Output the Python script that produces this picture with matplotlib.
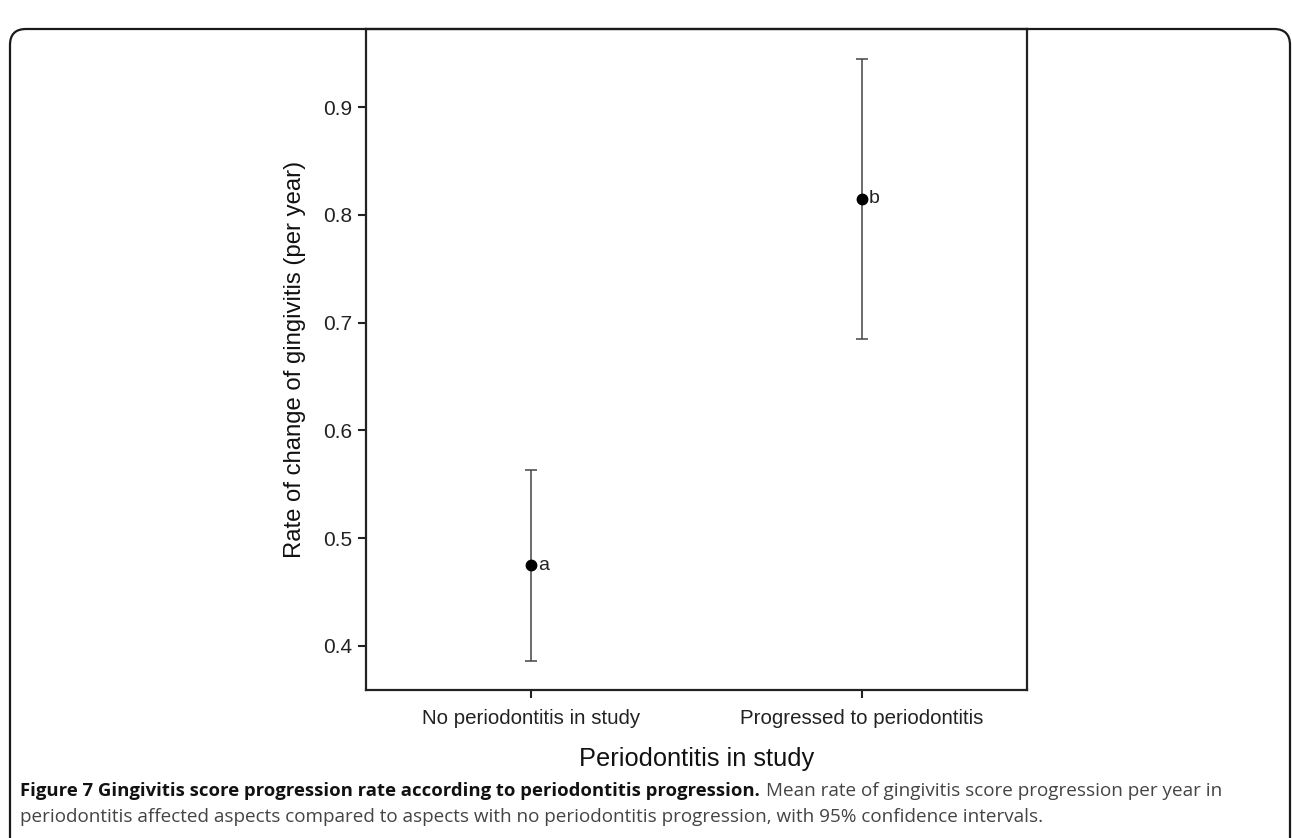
import matplotlib
matplotlib.use("Agg")
import matplotlib.pyplot as plt
from matplotlib.patches import FancyBboxPatch

# Data: mean yearly rate of change of gingivitis with 95% CI
groups = ["No periodontitis in study", "Progressed to periodontitis"]
means = [0.475, 0.815]
ci_low = [0.386, 0.685]
ci_high = [0.563, 0.945]
letters = ["a", "b"]
yticks = [0.4, 0.5, 0.6, 0.7, 0.8, 0.9]

W, H = 1292, 838
fig = plt.figure(figsize=(W / 100, H / 100), dpi=100)
fig.patch.set_facecolor("white")

# Rounded frame around the figure panel
frame = FancyBboxPatch((10, -40), 1280, 849, boxstyle="round,pad=0,rounding_size=16",
                       transform=None, fill=False, edgecolor="#1a1a1a", linewidth=1.6,
                       clip_on=False)
fig.patches.append(frame)

ax = fig.add_axes([365.7 / W, 1 - 690 / H, (1027 - 365.7) / W, (690 - 29.3) / H])
x = list(range(len(groups)))
yerr = [[m - lo for m, lo in zip(means, ci_low)], [hi - m for m, hi in zip(means, ci_high)]]
ax.errorbar(x, means, yerr=yerr, fmt="o", color="black", markersize=7.5,
            ecolor="#444444", elinewidth=1.1, capsize=4, capthick=1.1, zorder=3)
for xi, m, lab in zip(x, means, letters):
    ax.annotate(lab, (xi, m), xytext=(5, 0), textcoords="offset points",
                ha="left", va="center", fontsize=14, family="Liberation Sans", color="#222222")

ax.set_xlim(-0.5, 1.5)
ax.set_ylim(0.359, 0.9724)
ax.set_xticks(x)
ax.set_xticklabels(groups, fontsize=14.8, family="Liberation Sans", color="#1a1a1a")
ax.set_yticks(yticks)
ax.set_yticklabels([f"{v:.1f}" for v in yticks], fontsize=15, family="Liberation Sans",
                   color="#1a1a1a")
ax.tick_params(direction="out", length=6, width=1.5, colors="#222222", pad=4)
ax.tick_params(axis="x", pad=8)
for s in ax.spines.values():
    s.set_linewidth(1.6)
    s.set_color("#222222")

ax.set_xlabel("Periodontitis in study", fontsize=18.3, family="Liberation Sans", labelpad=13,
              color="#111111")
ax.set_ylabel("Rate of change of gingivitis (per year)", fontsize=17.2, family="Liberation Sans",
              labelpad=12, color="#111111")

# Caption: bold lead sentence followed by regular grey text
fig.canvas.draw()
renderer = fig.canvas.get_renderer()
cap_font = "Open Sans"
cap_size = 13.6
y1 = 1 - 791 / H
y2 = 1 - 817 / H
bold = fig.text(20 / W, y1, "Figure 7 Gingivitis score progression rate according to periodontitis progression.",
                fontsize=cap_size * 0.98, fontweight="bold", family=cap_font, color="#111111",
                va="center")
bb = bold.get_window_extent(renderer)
fig.text((bb.x1 + 6) / W, y1, "Mean rate of gingivitis score progression per year in",
         fontsize=cap_size, family=cap_font, color="#444444", va="center")
fig.text(20 / W, y2, "periodontitis affected aspects compared to aspects with no periodontitis progression, "
         "with 95% confidence intervals.", fontsize=cap_size, family=cap_font, color="#444444",
         va="center")

fig.savefig("out.png", dpi=100, facecolor="white")
